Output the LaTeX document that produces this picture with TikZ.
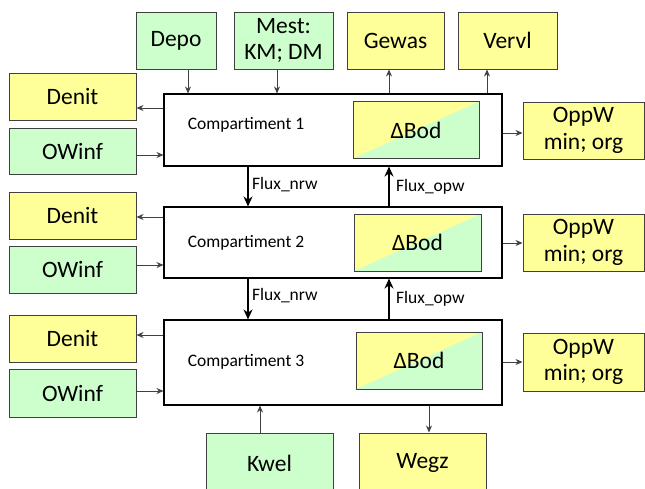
\documentclass[tikz,border=0pt]{standalone}
\usepackage{fontspec}
\setmainfont{Carlito}
\usetikzlibrary{arrows.meta}
\definecolor{gbox}{HTML}{CCFFCC}
\definecolor{ybox}{HTML}{FFFF99}
\definecolor{bord}{HTML}{404040}
\tikzset{
  box/.style={draw=bord, line width=1pt, minimum height=57pt, inner sep=0pt, align=center,
    font=\fontsize{23.5}{26.5}\selectfont},
  gbx/.style={box, fill=gbox},
  ybx/.style={box, fill=ybox},
  side/.style={box, minimum width=127pt, minimum height=47pt},
  comp/.style={draw=black, line width=1.1pt, fill=white, minimum width=338pt, inner sep=0pt},
  bod/.style={draw=bord, line width=1pt, minimum width=126pt, minimum height=57pt, inner sep=0pt,
    fill=ybox, font=\fontsize{23.5}{24}\selectfont,
    path picture={\fill[gbox] (path picture bounding box.south west) -- (path picture bounding box.south east) -- (path picture bounding box.north east) -- cycle;}},
  small/.style={font=\fontsize{17.5}{18}\selectfont, inner sep=0pt},
  arr/.style={-{Stealth[length=7pt,width=6pt]}, line width=0.9pt, draw=bord},
  flux/.style={-{Stealth[length=10pt,width=9pt]}, line width=2.2pt, draw=black},
}
\begin{document}
\begin{tikzpicture}[x=1pt,y=-1pt]
\clip (0,0) rectangle (645,488);
\fill[white] (0,0) rectangle (645,488);
% compartments
\node[comp, minimum height=72pt] (c1) at (333,130) {};
\node[comp, minimum height=71pt] (c2) at (333,242.5) {};
\node[comp, minimum height=85pt] (c3) at (333,362.5) {};
\node[small] (t1) at (246,125) {Compartiment 1};
\node[small] (t2) at (246,243) {Compartiment 2};
\node[small] (t3) at (246,362) {Compartiment 3};
\node[bod] (b1) at (416,130) {ΔBod};
\node[bod, minimum width=127pt] (b2) at (417.5,242.5) {ΔBod};
\node[bod] (b3) at (419,360.5) {ΔBod};
% top boxes
\node[gbx, minimum width=80pt] (depo) at (176,40.5) {Depo};
\node[gbx, minimum width=99pt] (mest) at (283.5,40.5) {Mest:\\KM; DM};
\node[ybx, minimum width=97pt] (gewas) at (395.5,40.5) {Gewas};
\node[ybx, minimum width=99pt] (vervl) at (507.5,40.5) {Vervl};
% left boxes
\node[side, fill=ybox] (d1) at (72.5,96.5) {Denit};
\node[side, fill=gbox, minimum height=46pt] (o1) at (72.5,151) {OWinf};
\node[side, fill=ybox] (d2) at (72.5,215.5) {Denit};
\node[side, fill=gbox] (o2) at (72.5,269.5) {OWinf};
\node[side, fill=ybox] (d3) at (72.5,338.5) {Denit};
\node[side, fill=gbox, minimum height=48pt] (o3) at (72.5,393) {OWinf};
% right boxes
\node[ybx, minimum width=121pt] (p1) at (583.5,130.5) {OppW\\min; org};
\node[ybx, minimum width=121pt] (p2) at (583.5,242.5) {OppW\\min; org};
\node[ybx, minimum width=121pt, minimum height=58pt] (p3) at (583.5,362) {OppW\\min; org};
% bottom boxes
\node[gbx, minimum width=127pt, minimum height=60pt] (kwel) at (269.5,463) {Kwel};
\node[ybx, minimum width=127pt, minimum height=60pt] (wegz) at (422.5,463) {Wegz};
% top arrows
\draw[arr] (188,0 |- depo.south) -- (188,0 |- c1.north);
\draw[arr] (277,0 |- mest.south) -- (277,0 |- c1.north);
\draw[arr] (389,0 |- c1.north) -- (389,0 |- gewas.south);
\draw[arr] (487,0 |- c1.north) -- (487,0 |- vervl.south);
% left arrows
\draw[arr] (c1.west |- 0,108) -- (d1.east |- 0,108);
\draw[arr] (o1.east |- 0,155) -- (c1.west |- 0,155);
\draw[arr] (c2.west |- 0,217) -- (d2.east |- 0,217);
\draw[arr] (o2.east |- 0,265) -- (c2.west |- 0,265);
\draw[arr] (c3.west |- 0,335) -- (d3.east |- 0,335);
\draw[arr] (o3.east |- 0,391) -- (c3.west |- 0,391);
% right arrows
\draw[arr] (c1.east |- 0,133) -- (p1.west |- 0,133);
\draw[arr] (c2.east |- 0,243) -- (p2.west |- 0,243);
\draw[arr] (c3.east |- 0,362) -- (p3.west |- 0,362);
% bottom arrows
\draw[arr] (260,0 |- kwel.north) -- (260,0 |- c3.south);
\draw[arr] (429,0 |- c3.south) -- (429,0 |- wegz.north);
% flux arrows
\draw[flux] (248,0 |- c1.south) -- (248,0 |- c2.north);
\draw[flux] (248,0 |- c2.south) -- (248,0 |- c3.north);
\draw[flux] (389,0 |- c2.north) -- (389,0 |- c1.south);
\draw[flux] (389,0 |- c3.north) -- (389,0 |- c2.south);
\node[small, anchor=west] (fn1) at (252,185) {Flux\_nrw};
\node[small, anchor=west] (fn2) at (252,296) {Flux\_nrw};
\node[small, anchor=west] (fo1) at (396,187) {Flux\_opw};
\node[small, anchor=west] (fo2) at (396,299) {Flux\_opw};
\end{tikzpicture}
\end{document}
